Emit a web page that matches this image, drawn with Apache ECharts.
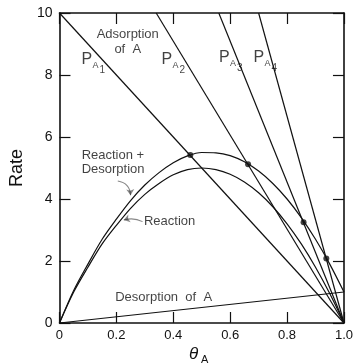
<!DOCTYPE html>
<html><head><meta charset="utf-8">
<script src="https://cdn.jsdelivr.net/npm/echarts@6/dist/echarts.min.js"></script>
<style>html,body{margin:0;padding:0;background:#fff}#c{width:356px;height:364px}</style>
</head><body><div id="c"></div>
<script>
// ---- data ----
const theta = [0,0.05,0.1,0.15,0.2,0.25,0.3,0.35,0.4,0.45,0.5,0.55,0.6,0.65,0.7,0.75,0.8,0.85,0.9,0.95,1.0];
const reaction = [0,1.0,1.8,2.55,3.15,3.7,4.15,4.5,4.78,4.95,5.0,4.95,4.8,4.55,4.2,3.75,3.2,2.55,1.8,0.95,0];
const reactionPlusDesorption = [0,1.05,1.9,2.7,3.35,3.95,4.45,4.85,5.17,5.39,5.5,5.49,5.4,5.2,4.9,4.5,4.0,3.4,2.7,1.9,1.0];
const desorptionOfA = [[0,0],[1,1]];
const adsorptionStart = [[0,10],[0.34,10],[0.56,10],[0.70,10]]; // P_A1..P_A4 at Rate = 10
const adsorptionEnd = [1,0];
const operatingPoints = [[0.46,5.42],[0.663,5.12],[0.858,3.25],[0.938,2.08]];
const xTickLabels = ['0','0.2','0.4','0.6','0.8','1.0'];
const yTickLabels = ['0','2','4','6','8','10'];
const pressureSubscripts = ['1','2','3','4'];

// ---- chart ----
const FONT = 'Liberation Sans';
const INK = '#111';
const chart = echarts.init(document.getElementById('c'), null, {renderer:'canvas'});
const pairs = ys => theta.map((t,i)=>[t, ys[i]]);
const line = (name, data, smooth) => ({
  type:'line', name, data, smooth, symbol:'none', silent:true, z:3,
  lineStyle:{color:INK, width:1.2}
});

// text annotations (placement is styling, kept here)
const pLabelPos = [[0.077,8.5],[0.359,8.5],[0.561,8.56],[0.682,8.56]];
const annotations = [];
pLabelPos.forEach((pos,i)=>{
  annotations.push({value:pos, label:{formatter:'P', fontSize:16, align:'left', verticalAlign:'middle'}});
  annotations.push({value:pos, label:{formatter:'A', fontSize:9, align:'left', verticalAlign:'middle', offset:[11,6]}});
  annotations.push({value:pos, label:{formatter:pressureSubscripts[i], fontSize:10, align:'left', verticalAlign:'middle', offset:[18,11]}});
});
annotations.push({value:[0.24,9.07], label:{formatter:'Adsorption\nof  A', align:'center', verticalAlign:'middle', lineHeight:15}});
annotations.push({value:[0.078,5.18], label:{formatter:'Reaction +\nDesorption', align:'left', verticalAlign:'middle', lineHeight:14}});
annotations.push({value:[0.297,3.28], label:{formatter:'Reaction', align:'left', verticalAlign:'middle'}});
annotations.push({value:[0.196,0.83], label:{formatter:'Desorption  of  A', align:'left', verticalAlign:'middle'}});

const arrows = [
  {coords:[[0.205,4.58],[0.25,4.12]], lineStyle:{curveness:0.4}},
  {coords:[[0.292,3.27],[0.226,3.32]], lineStyle:{curveness:-0.2}}
];

const axisCommon = {
  type:'value',
  axisLine:{show:true, onZero:false, lineStyle:{color:INK, width:1.6}},
  axisTick:{show:true, inside:true, length:11, lineStyle:{color:INK, width:1.2}},
  splitLine:{show:false}
};

chart.setOption({
  animation:false,
  backgroundColor:'#fff',
  grid:{left:48, top:13, width:306, height:310, containLabel:false},
  xAxis:[
    Object.assign({}, axisCommon, {
      min:0, max:1, interval:0.2, position:'bottom',
      axisLabel:{formatter:v=>xTickLabels[Math.round(v/0.2)], color:INK, fontFamily:FONT, fontSize:13, margin:6}
    }),
    Object.assign({}, axisCommon, {min:0, max:1, interval:0.2, position:'top', axisLabel:{show:false}})
  ],
  yAxis:[
    Object.assign({}, axisCommon, {
      min:0, max:10, interval:2, position:'left',
      axisLabel:{formatter:v=>yTickLabels[Math.round(v/2)], color:INK, fontFamily:FONT, fontSize:14, margin:7},
      name:'Rate', nameLocation:'middle', nameGap:19,
      nameTextStyle:{fontFamily:FONT, fontSize:18, color:INK}
    }),
    Object.assign({}, axisCommon, {min:0, max:10, interval:2, position:'right', axisLabel:{show:false}})
  ],
  series:[
    line('Reaction', pairs(reaction), 0.3),
    line('Reaction + Desorption', pairs(reactionPlusDesorption), 0.3),
    line('Desorption of A', desorptionOfA, false),
    ...adsorptionStart.map((s,i)=>line('Adsorption P_A'+(i+1), [s, adsorptionEnd], false)),
    {type:'scatter', name:'Operating points', data:operatingPoints, symbol:'circle', symbolSize:6,
     itemStyle:{color:INK}, silent:true, z:5},
    {type:'lines', coordinateSystem:'cartesian2d', data:arrows, symbol:['none','arrow'], symbolSize:[0,6],
     lineStyle:{color:INK, width:1.1}, silent:true, z:4},
    {type:'scatter', name:'labels', data:annotations, symbolSize:0, silent:true, z:6,
     label:{show:true, position:'inside', color:INK, fontFamily:FONT, fontSize:13}}
  ]
});

// x-axis title θ_A, anchored to the axis middle
const mid = chart.convertToPixel({gridIndex:0}, [0.5, 0]);
chart.setOption({
  graphic:[
    {type:'text', x:mid[0]-8, y:mid[1]+31, style:{text:'θ', font:'italic 17px "Liberation Sans"', fill:INK, align:'center', verticalAlign:'middle'}},
    {type:'text', x:mid[0]+3, y:mid[1]+37, style:{text:'A', font:'11px "Liberation Sans"', fill:INK, align:'center', verticalAlign:'middle'}}
  ]
});
</script></body></html>
